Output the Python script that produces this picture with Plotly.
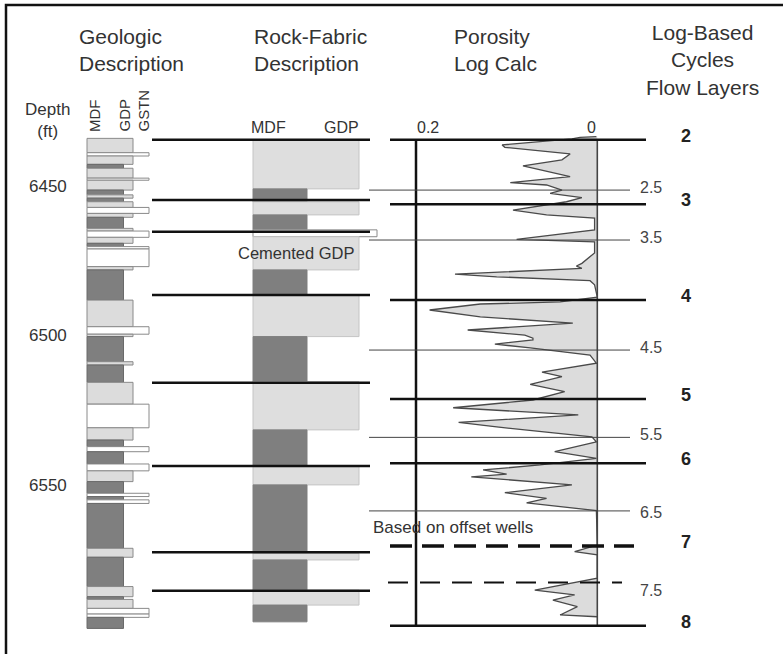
"""
Core / log correlation panel: geologic description, rock-fabric description,
calculated porosity log and log-based cycles / flow layers.
"""

import plotly.graph_objects as go

W, H = 783, 654
FONT = 'Liberation Sans, Arial, sans-serif'
TEXT = '#333333'

# ---- data -----------------------------------------------------------------

DEPTH_TICKS = [6450, 6500, 6550]

# geologic description: top of each bed (ft) and fabric
GEO_TOP = [6434.0, 6438.8, 6439.9, 6442.7, 6444.0, 6447.3, 6448.0, 6451.3,
           6452.9, 6454.0, 6455.2, 6457.1, 6459.1, 6460.4, 6464.1, 6465.0,
           6467.1, 6469.1, 6470.2, 6471.0, 6476.9, 6478.0, 6488.1, 6497.0,
           6499.5, 6500.3, 6508.7, 6509.8, 6515.6, 6522.9, 6530.8, 6534.9,
           6537.1, 6538.8, 6542.9, 6545.2, 6548.8, 6552.7, 6553.8, 6554.9,
           6556.1, 6571.1, 6574.1, 6583.9, 6587.3, 6588.2, 6591.2, 6593.1,
           6594.2]
GEO_FABRIC = ['GDP', 'GSTN', 'GDP', 'MDF', 'GDP', 'GSTN', 'GDP', 'MDF',
              'GDP', 'MDF', 'GDP', 'GSTN', 'GDP', 'MDF', 'GDP', 'GSTN',
              'GDP', 'MDF', 'GSTN', 'GSTN', 'GDP', 'MDF', 'GDP', 'GSTN',
              'GDP', 'MDF', 'GDP', 'MDF', 'GDP', 'GSTN', 'GDP', 'MDF',
              'GSTN', 'MDF', 'GSTN', 'GDP', 'MDF', 'GSTN', 'MDF', 'GSTN',
              'MDF', 'GDP', 'MDF', 'GDP', 'MDF', 'GDP', 'GSTN', 'GSTN',
              'MDF']
GEO_BASE = 6597.9

# rock-fabric description
ROCK_TOP = [6434.5, 6450.9, 6455.2, 6459.6, 6464.6, 6466.9, 6478.0, 6486.4,
            6500.3, 6515.4, 6531.5, 6543.8, 6549.9, 6572.8, 6575.0, 6585.1,
            6590.1]
ROCK_FABRIC = ['GDP', 'MDF', 'GDP', 'MDF', 'OPEN', 'GDP', 'MDF', 'GDP',
               'MDF', 'GDP', 'MDF', 'GDP', 'MDF', 'GDP', 'MDF', 'GDP', 'MDF']
ROCK_BASE = 6595.7
CEMENTED_DEPTH = 6472.5

# porosity log calc (depth ft, porosity fraction)
PHI_DEPTH = [6433.4, 6433.7, 6434.2, 6436.2, 6437.0, 6439.2, 6441.2, 6443.2,
             6446.8, 6448.8, 6449.6, 6451.3, 6452.4, 6453.8, 6455.2, 6458.0,
             6459.6, 6460.7, 6464.6, 6467.8, 6468.6, 6472.3, 6475.8, 6476.7,
             6477.5, 6479.4, 6480.3, 6481.6, 6483.0, 6487.1, 6488.7, 6489.4,
             6491.4, 6493.1, 6493.7, 6495.8, 6498.1, 6499.8, 6500.8, 6501.4,
             6502.8, 6504.1, 6506.5, 6509.2, 6512.2, 6513.7, 6516.3, 6518.7,
             6521.5, 6524.1, 6526.5, 6529.0, 6530.5, 6533.8, 6535.5, 6538.8,
             6541.0, 6543.2, 6544.9, 6546.3, 6547.2, 6549.9, 6552.5, 6554.4,
             6555.9, 6558.5, 6570.0, 6572.2, 6573.3, 6581.1, 6585.1, 6586.7,
             6588.4, 6590.6, 6593.4, 6594.0]
PHI_VALUE = [0.001, 0.019, 0.028, 0.105, 0.102, 0.030, 0.039, 0.082,
             0.030, 0.096, 0.056, 0.039, 0.052, 0.017, 0.034, 0.093,
             0.056, 0.003, 0.003, 0.089, 0.003, 0.003, 0.017, 0.023,
             0.017, 0.157, 0.111, 0.008, 0.003, 0.000, 0.041, 0.129,
             0.185, 0.144, 0.129, 0.027, 0.143, 0.080, 0.071, 0.071,
             0.113, 0.074, 0.008, 0.001, 0.061, 0.039, 0.074, 0.036,
             0.071, 0.159, 0.021, 0.153, 0.111, 0.006, 0.001, 0.047,
             0.001, 0.063, 0.126, 0.100, 0.139, 0.028, 0.102, 0.056,
             0.078, 0.001, 0.000, 0.025, 0.000, 0.000, 0.069, 0.025,
             0.049, 0.022, 0.041, 0.000]
PHI_TICKS = [0.2, 0]
LOG_TOP, LOG_BASE = 6434.5, 6597.4

# cycle boundaries picked on core (left) and on the log (right)
CORE_BOUNDARY_DEPTH = [6434.5, 6454.6, 6465.2, 6486.4, 6515.7, 6543.6,
                       6572.4, 6585.3]
CYCLE_LABEL = ['2', '3', '4', '5', '6', '7', '8']
CYCLE_DEPTH = [6434.5, 6456.0, 6488.1, 6521.2, 6542.7, 6570.3, 6597.0]
CYCLE_INFERRED = ['7']

FLOW_LABEL = ['2.5', '3.5', '4.5', '5.5', '6.5', '7.5']
FLOW_DEPTH = [6451.3, 6468.0, 6504.8, 6534.0, 6558.6, 6582.5]
FLOW_LABEL_DEPTH = [6450.3, 6467.3, 6504.1, 6533.2, 6559.0, 6585.3]
FLOW_INFERRED = ['7.5']

# ---- layout constants (page pixels) ----------------------------------------

DEPTH_MIN = 6500 - 335.7 / 2.99           # depth at top of page
DEPTH_MAX = 6500 + (H - 335.7) / 2.99     # depth at bottom of page

GEO_LEFT = 87
GEO_LEN = {'MDF': 36.5, 'GDP': 46, 'GSTN': 62}
GEO_FILL = {'MDF': '#7f7f7f', 'GDP': '#dcdcdc', 'GSTN': '#ffffff'}
GEO_EDGE = {'MDF': '#6a6a6a', 'GDP': '#8a8a8a', 'GSTN': '#8a8a8a'}

ROCK_LEFT = 253
ROCK_LEN = {'MDF': 54, 'GDP': 106, 'OPEN': 124}
ROCK_FILL = {'MDF': '#7f7f7f', 'GDP': '#dedede', 'OPEN': '#ffffff'}
ROCK_EDGE = {'MDF': '#7f7f7f', 'GDP': '#c4c4c4', 'OPEN': '#8a8a8a'}

PORO_X02, PORO_X0 = 416, 597.3        # pixel of phi=0.2 and phi=0
PAD_L, PAD_R = 8, 8
per_px = 0.2 / (PORO_X0 - PORO_X02)


def ppy(y):
    return 1 - y / H


def bed_trace(tops, base, fabrics, left, lengths, fills, edges):
    bases = tops[1:] + [base]
    return go.Bar(
        orientation='h',
        y=[(t + b) / 2 for t, b in zip(tops, bases)],
        width=[b - t for t, b in zip(tops, bases)],
        x=[lengths[f] for f in fabrics],
        base=left,
        marker=dict(color=[fills[f] for f in fabrics],
                    line=dict(color=[edges[f] for f in fabrics], width=1)),
        hoverinfo='skip', showlegend=False,
    )


fig = go.Figure()

fig.add_trace(bed_trace(GEO_TOP, GEO_BASE, GEO_FABRIC, GEO_LEFT,
                        GEO_LEN, GEO_FILL, GEO_EDGE))
fig.add_trace(bed_trace(ROCK_TOP, ROCK_BASE, ROCK_FABRIC, ROCK_LEFT,
                        ROCK_LEN, ROCK_FILL, ROCK_EDGE))

# porosity curve, shaded towards zero
fig.add_trace(go.Scatter(
    x=PHI_VALUE, y=PHI_DEPTH, xaxis='x2', yaxis='y', mode='lines',
    fill='tozerox', fillcolor='#dcdcdc',
    line=dict(color='#4a4a4a', width=1.3),
    hoverinfo='skip', showlegend=False,
))
# porosity scale lines
fig.add_trace(go.Scatter(
    x=[PHI_TICKS[0]] * 2, y=[LOG_TOP, LOG_BASE], xaxis='x2', yaxis='y',
    mode='lines', line=dict(color='#111111', width=2.5),
    hoverinfo='skip', showlegend=False,
))
fig.add_trace(go.Scatter(
    x=[PHI_TICKS[1]] * 2, y=[LOG_TOP, LOG_BASE], xaxis='x2', yaxis='y',
    mode='lines', line=dict(color='#444444', width=1.6),
    hoverinfo='skip', showlegend=False,
))

shapes = []
# core-picked cycle boundaries
for d in CORE_BOUNDARY_DEPTH:
    shapes.append(dict(type='line', xref='x', yref='y', x0=152, x1=370,
                       y0=d, y1=d, line=dict(color='#111111', width=2.5)))
# log-picked cycle boundaries
for lab, d in zip(CYCLE_LABEL, CYCLE_DEPTH):
    if lab in CYCLE_INFERRED:
        ln = dict(color='#111111', width=3.5, dash='22px,10px')
        x1 = 634
    else:
        ln = dict(color='#111111', width=2.5)
        x1 = 646
    shapes.append(dict(type='line', xref='x', yref='y', x0=390, x1=x1,
                       y0=d, y1=d, line=ln))
# flow layer boundaries
for lab, d in zip(FLOW_LABEL, FLOW_DEPTH):
    if lab in FLOW_INFERRED:
        ln = dict(color='#111111', width=2, dash='20px,12px')
        x0, x1 = 388, 622
    else:
        ln = dict(color='#444444', width=1)
        x0, x1 = 369, 630
    shapes.append(dict(type='line', xref='x', yref='y', x0=x0, x1=x1,
                       y0=d, y1=d, line=ln))
# outer frame
shapes.append(dict(type='rect', xref='paper', yref='paper',
                   x0=6 / W, x1=1.02, y0=-0.02, y1=ppy(5),
                   line=dict(color='#111111', width=2.5)))

ann = []


def text(s, x, y, size, xanchor='center', xref='x', yref='paper', **kw):
    ann.append(dict(text=s, x=x, y=y, xref=xref, yref=yref, showarrow=False,
                    xanchor=xanchor, yanchor='middle',
                    align=kw.pop('align', 'center'),
                    font=dict(family=FONT, size=size,
                              color=kw.pop('color', TEXT)), **kw))


# column titles
text('Geologic<br>Description', 77, ppy(50), 21, 'left', align='left')
text('Rock-Fabric<br>Description', 252, ppy(50), 21, 'left', align='left')
text('Porosity<br>Log Calc', 452, ppy(50), 21, 'left', align='left')
text('Log-Based<br>Cycles<br>Flow Layers', 702, ppy(60), 21)

# depth scale
text('Depth<br>(ft)', 47, ppy(121), 17)
for d in DEPTH_TICKS:
    text(str(d), 48, d, 17, yref='y')

# geologic fabric headers (rotated)
for s, xx in [('MDF', 94.5), ('GDP', 124), ('GSTN', 142.5)]:
    ann.append(dict(text=s, x=xx, y=ppy(134), xref='x', yref='paper',
                    showarrow=False, textangle=-90, xanchor='center',
                    yanchor='bottom',
                    font=dict(family=FONT, size=15, color=TEXT)))

# rock-fabric headers
text('MDF', 268, ppy(128), 16)
text('GDP', 341, ppy(128), 16)
text('Cemented GDP', 296, CEMENTED_DEPTH, 16.5, yref='y')

# porosity scale labels
text('0.2', PHI_TICKS[0], ppy(128), 16, 'left', xref='x2', xshift=-1)
text('0', PHI_TICKS[1], ppy(128), 16, 'right', xref='x2', xshift=1)

# cycles and flow layers
for lab, d in zip(CYCLE_LABEL, CYCLE_DEPTH):
    text('<b>%s</b>' % lab, 686, d, 18, yref='y', yshift=4, color='#222222')
for lab, d in zip(FLOW_LABEL, FLOW_LABEL_DEPTH):
    text(lab, 638, d, 16, 'left', yref='y', color='#444444')

text('Based on offset wells', 371, 6564.2, 17, 'left', yref='y')

x2_range = [PHI_TICKS[0] + PAD_L * per_px, PHI_TICKS[1] - PAD_R * per_px]

fig.update_layout(
    width=W, height=H,
    margin=dict(l=0, r=0, t=0, b=0, pad=0),
    paper_bgcolor='white', plot_bgcolor='white',
    barmode='overlay', showlegend=False,
    xaxis=dict(range=[0, W], domain=[0, 1], visible=False, fixedrange=True),
    xaxis2=dict(range=x2_range,
                domain=[(PORO_X02 - PAD_L) / W, (PORO_X0 + PAD_R) / W],
                anchor='y', visible=False, fixedrange=True),
    yaxis=dict(range=[DEPTH_MAX, DEPTH_MIN], domain=[0, 1], visible=False,
               fixedrange=True),
    shapes=shapes,
    annotations=ann,
)

fig.write_html('out.html', config={'displayModeBar': False},
               post_script="document.body.style.margin='0';")
